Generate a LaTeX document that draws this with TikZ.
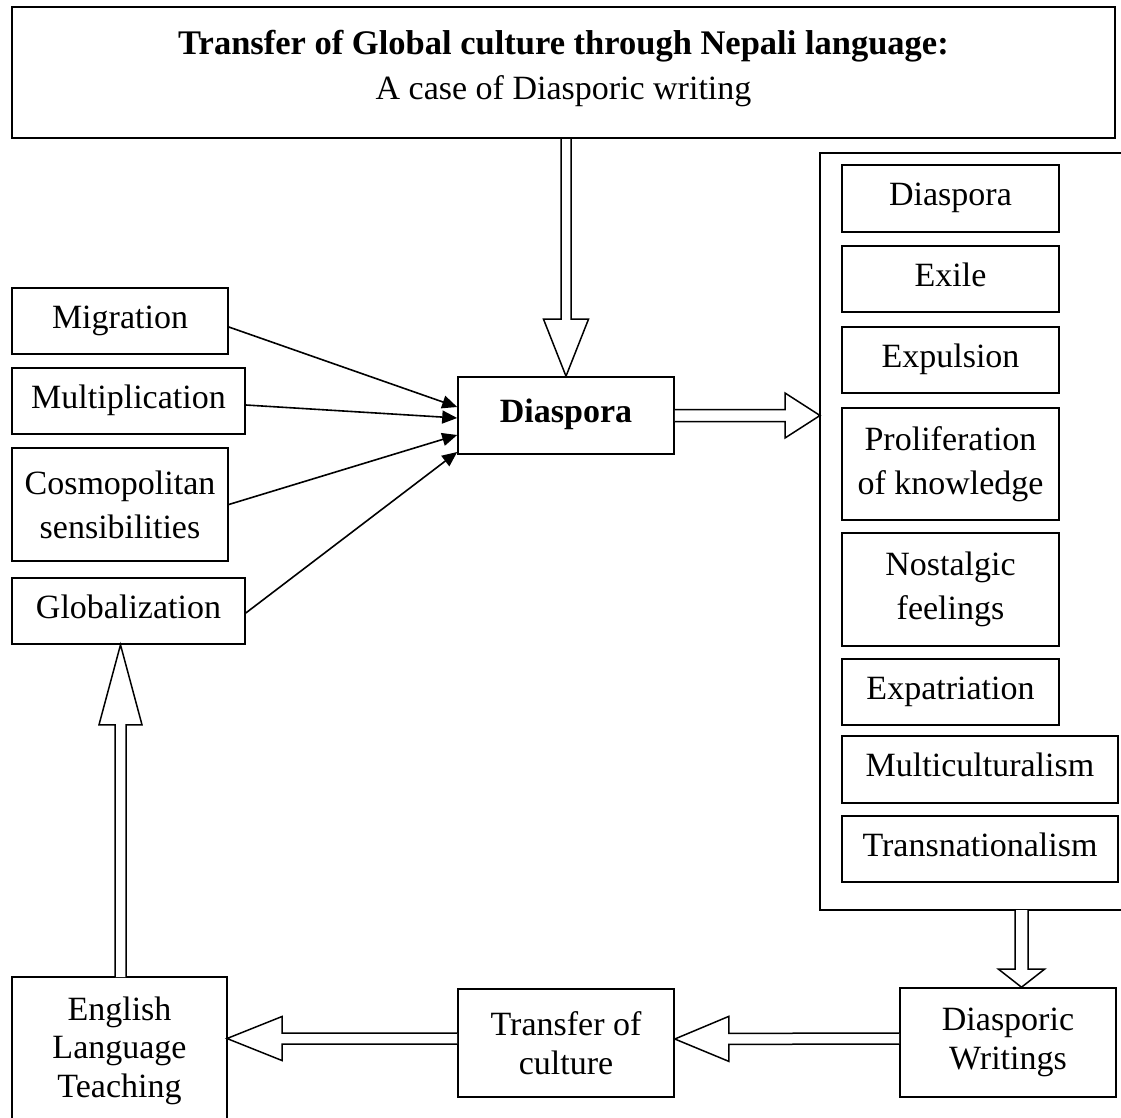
\documentclass[tikz,border=0pt]{standalone}
\usepackage{fontspec}
\setmainfont{Liberation Serif}
\usetikzlibrary{calc,arrows.meta}
\tikzset{
  box/.style={draw, line width=1.6pt, inner sep=0pt, align=center,
    font=\fontsize{34}{44}\selectfont},
  one/.style={text height=22pt, text depth=8pt},
  tight/.style={font=\fontsize{34}{38.5}\selectfont},
  txt/.style={inner sep=0pt, align=center, font=\fontsize{34}{44}\selectfont},
  frame/.style={draw, line width=2.5pt},
  harrow/.style={draw, line width=1.5pt, fill=white, line join=miter},
  feed/.style={line width=1.6pt, -{Triangle[length=15pt,width=13pt]}},
}
% #1 start, #2 tip, #3 shaft half width, #4 head half width, #5 head length
\newcommand\hollowarrow[5]{%
  \coordinate (hb) at ($(#2)!#5!(#1)$);
  \draw[harrow] ($(#1)!#3!90:(#2)$) -- ($(hb)!#3!90:(#2)$) -- ($(hb)!#4!90:(#2)$)
    -- (#2) -- ($(hb)!#4!-90:(#2)$) -- ($(hb)!#3!-90:(#2)$) -- ($(#1)!#3!-90:(#2)$);
}
\begin{document}
\begin{tikzpicture}[x=1pt,y=-1pt]
\useasboundingbox (0,0) rectangle (1121,1118);
\fill[white] (0,0) rectangle (1121,1118);

% title box
\node[frame, minimum width=1103pt, minimum height=131pt] (top) at (563.5,72.5) {};
\node[txt, anchor=base, font=\fontsize{34.5}{44}\selectfont\bfseries] (title) at (563.5,55)
  {Transfer of Global culture through Nepali language:};
\node[txt, anchor=base] (subtitle) at (563.5,100) {A case of Diasporic writing};

% left boxes
\node[box, one, minimum width=216pt, minimum height=66pt] (mig) at (120,321) {Migration};
\node[box, one, minimum width=233pt, minimum height=66pt] (mult) at (128.5,401) {Multiplication};
\node[box, minimum width=216pt, minimum height=113pt] (cosmo) at (120,504.5) {Cosmopolitan\\sensibilities};
\node[box, one, minimum width=233pt, minimum height=66pt] (glob) at (128.5,611) {Globalization};

% centre box
\node[box, one, minimum width=216pt, minimum height=77pt, font=\fontsize{34}{44}\selectfont\bfseries] (dia) at (566,415.5) {Diaspora};

% right panel
\coordinate (pTR) at (1121,153);
\coordinate (pBR) at (1121,910);
\draw[frame] (pTR) -| (820,910) -- (pBR);
\coordinate (panelL) at (820,415.5);
\coordinate (panelB) at (1021.5,910);

\node[box, one, minimum width=217pt, minimum height=67pt] (p1) at (950.5,198.5) {Diaspora};
\node[box, one, minimum width=217pt, minimum height=66pt] (p2) at (950.5,279) {Exile};
\node[box, one, minimum width=217pt, minimum height=66pt] (p3) at (950.5,360) {Expulsion};
\node[box, minimum width=217pt, minimum height=112pt] (p4) at (950.5,464) {Proliferation\\of knowledge};
\node[box, minimum width=217pt, minimum height=113pt] (p5) at (950.5,589.5) {Nostalgic\\feelings};
\node[box, one, minimum width=217pt, minimum height=66pt] (p6) at (950.5,692) {Expatriation};
\node[box, one, minimum width=276pt, minimum height=67pt] (p7) at (980,769.5) {Multiculturalism};
\node[box, one, minimum width=276pt, minimum height=66pt] (p8) at (980,849) {Transnationalism};

% bottom boxes
\node[box, tight, minimum width=216pt, minimum height=108pt] (tc) at (566,1043) {Transfer of\\culture};
\node[box, tight, minimum width=216pt, minimum height=109pt] (dw) at (1008,1042.5) {Diasporic\\Writings};
\node[txt, tight] (elt) at (119.5,1050.5) {English\\Language\\Teaching};
\coordinate (eltBL) at (12,1118);
\coordinate (eltBR) at (227,1118);
\draw[box] (eltBL) |- (227,977) -- (eltBR);
\coordinate (eltE) at (227,1038.5);
\coordinate (eltN) at (120.5,977);

% thin arrows into Diaspora
\draw[feed] ([yshift=-6pt]mig.east) -- ([yshift=8.5pt]dia.west);
\draw[feed] ([yshift=-4pt]mult.east) -- ([yshift=-2.5pt]dia.west);
\draw[feed] (cosmo.east) -- ([yshift=-19.5pt]dia.west);
\draw[feed] ([yshift=-2pt]glob.east) -- ([yshift=-36.5pt]dia.west);

% hollow arrows
\coordinate (a1s) at (top.south -| dia.north);
\hollowarrow{a1s}{dia.north}{5pt}{22.5pt}{57pt}
\hollowarrow{dia.east}{panelL}{6pt}{22.5pt}{35pt}
\coordinate (a3e) at (panelB |- dw.north);
\hollowarrow{panelB}{a3e}{6.5pt}{23pt}{18pt}
\coordinate (a4s) at ([yshift=4pt]dw.west);
\coordinate (a4e) at ([yshift=4pt]tc.east);
\hollowarrow{a4s}{a4e}{5.5pt}{22.5pt}{54pt}
\coordinate (a5s) at ([yshift=4.5pt]tc.west);
\hollowarrow{a5s}{eltE}{5.5pt}{22pt}{55pt}
\coordinate (a6e) at (glob.south -| eltN);
\hollowarrow{eltN}{a6e}{5.5pt}{21.5pt}{80pt}
\end{tikzpicture}
\end{document}
